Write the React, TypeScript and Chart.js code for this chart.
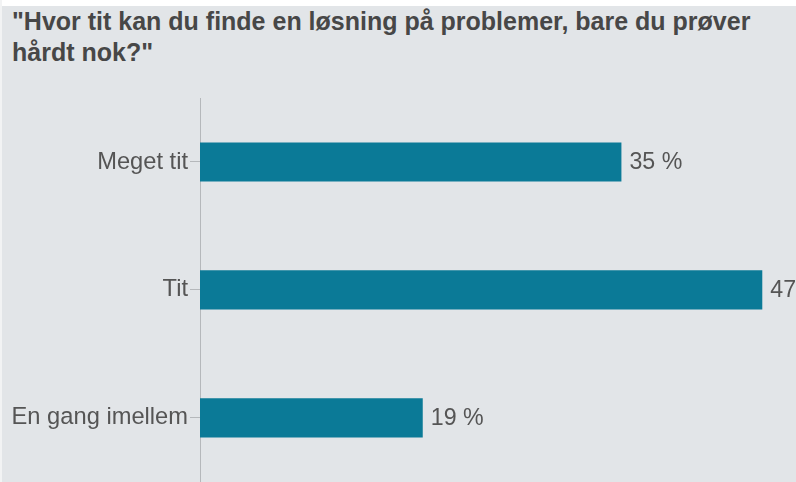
import React, { useEffect, useRef } from "react";
import { Chart, registerables } from "chart.js";

Chart.register(...registerables);

const titleLines = ['"Hvor tit kan du finde en løsning på problemer, bare du prøver', 'hårdt nok?"'];
const categories = ["Meget tit", "Tit", "En gang imellem"];
const values = [35, 46.7, 18.5];
const valueLabels = ["35 %", "47 %", "19 %"];
const xMax = 49.5;

const BG = "#e2e5e8";
const BAR = "#0b7a97";
const TEXT = "#555555";
const FONT = "'Liberation Sans', Arial, Helvetica, sans-serif";

export default function App() {
  const canvasRef = useRef<HTMLCanvasElement | null>(null);

  useEffect(() => {
    const canvas = canvasRef.current;
    if (!canvas) return;
    const labelPlugin = {
      id: "valueLabels",
      afterDatasetsDraw(chart: any) {
        const ctx = chart.ctx;
        const meta = chart.getDatasetMeta(0);
        ctx.save();
        ctx.font = `23.2px ${FONT}`;
        ctx.fillStyle = TEXT;
        ctx.textAlign = "left";
        ctx.textBaseline = "middle";
        meta.data.forEach((bar: any, i: number) => {
          ctx.fillText(valueLabels[i], bar.x + 8, bar.y + 1);
        });
        ctx.restore();
      },
    };
    const chart = new Chart(canvas, {
      type: "bar",
      data: {
        labels: categories,
        datasets: [
          {
            data: values,
            backgroundColor: BAR,
            borderWidth: 0,
            barPercentage: 0.306,
            categoryPercentage: 1,
          },
        ],
      },
      options: {
        indexAxis: "y",
        animation: false,
        responsive: false,
        maintainAspectRatio: false,
        layout: { padding: { top: 98, bottom: 1, left: 0, right: 0 } },
        plugins: {
          legend: { display: false },
          tooltip: { enabled: false },
          title: { display: false },
        },
        scales: {
          x: {
            display: false,
            min: 0,
            max: xMax,
          },
          y: {
            afterFit(scale: any) {
              scale.width = 200;
            },
            grid: {
              display: true,
              drawOnChartArea: false,
              offset: false,
              tickLength: 10,
              color: "#b5b8bb",
            },
            border: { display: true, color: "#b5b8bb", width: 1 },
            ticks: {
              font: { family: FONT, size: 23.7 },
              color: TEXT,
              padding: 2,
            },
          },
        },
      },
      plugins: [labelPlugin],
    });
    return () => chart.destroy();
  }, []);

  return (
    <div
      style={{
        position: "absolute",
        left: 0,
        top: 0,
        width: 796,
        height: 482,
        background: BG,
        overflow: "hidden",
      }}
    >
      <div style={{ position: "absolute", left: 0, top: 0, width: 796, height: 6, background: "#ffffff" }} />
      <div style={{ position: "absolute", left: 0, top: 0, width: 2, height: 482, background: "#f2f3f4" }} />
      <div
        style={{
          position: "absolute",
          left: 12,
          top: 6,
          fontFamily: FONT,
          fontWeight: "bold",
          fontSize: 25,
          lineHeight: "31px",
          color: "#474747",
          whiteSpace: "nowrap",
        }}
      >
        {titleLines.map((l, i) => (
          <div key={i}>{l}</div>
        ))}
      </div>
      <canvas
        ref={canvasRef}
        width={796}
        height={498}
        style={{ position: "absolute", left: 0, top: 0, width: 796, height: 498 }}
      />
    </div>
  );
}
